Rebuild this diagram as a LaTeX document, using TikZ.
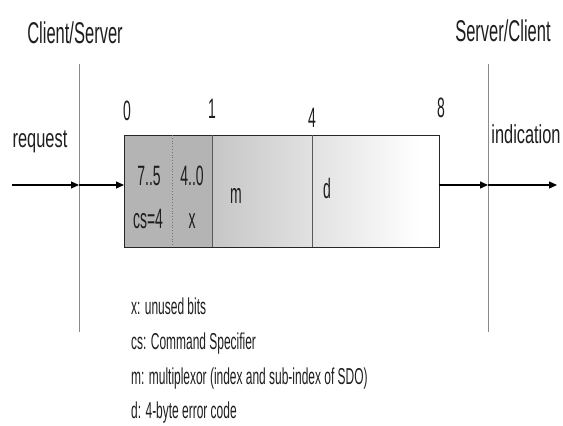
\documentclass[tikz,border=0pt]{standalone}
\usepackage{fontspec}
\setmainfont{Liberation Sans}
\newfontfamily\titlefont[FakeStretch=0.55]{Liberation Sans}
\newfontfamily\labfont[FakeStretch=0.63]{Liberation Sans}
\newfontfamily\boxfont[FakeStretch=0.5]{Liberation Sans}
\newfontfamily\legfont[FakeStretch=0.52]{Liberation Sans}
\usetikzlibrary{arrows.meta}
\definecolor{txt}{HTML}{1E1E1E}
\definecolor{cellgray}{HTML}{B4B4B4}
\definecolor{gradstart}{HTML}{C6C6C6}
\definecolor{sepline}{HTML}{8A8A8A}
\begin{document}
\begin{tikzpicture}[x=1pt,y=-1pt,
  title/.style={anchor=base, text=txt, inner sep=0pt, font=\titlefont\fontsize{30}{30}\selectfont},
  lab/.style={anchor=base, text=txt, inner sep=0pt, font=\labfont\fontsize{26}{26}\selectfont},
  bit/.style={anchor=base, text=txt, inner sep=0pt, font=\boxfont\fontsize{28}{28}\selectfont},
  leg/.style={anchor=base west, text=txt, inner sep=0pt, font=\legfont\fontsize{23}{23}\selectfont},
  sidebar/.style={draw=sepline, line width=1pt},
  msgarrow/.style={draw=black, line width=1.2pt, -{Triangle[length=8pt,width=7pt]}},
  divider/.style={draw=black!65, line width=0.8pt}]
\useasboundingbox (0,0) rectangle (563,426);

% frame fills
\fill[cellgray] (124,135) rectangle (212,247);
\shade[left color=gradstart, right color=white] (212,135) rectangle (420,247);
\fill[white] (420,135) rectangle (439,247);
\node[draw=black!85, line width=1.2pt, anchor=north west, minimum width=315pt, minimum height=112pt, inner sep=0pt] (frame) at (124,135) {};

% dividers
\coordinate (d1t) at (172,135); \coordinate (d1b) at (172,247);
\coordinate (d2t) at (212,135); \coordinate (d2b) at (212,247);
\coordinate (d3t) at (312,135); \coordinate (d3b) at (312,247);
\draw[draw=black!55, line width=0.8pt, dotted] (d1t) -- (d1b);
\draw[divider] (d2t) -- (d2b);
\draw[divider] (d3t) -- (d3b);

% side bars
\coordinate (lbt) at (79,64); \coordinate (lbb) at (79,332);
\coordinate (rbt) at (488,64); \coordinate (rbb) at (488,332);
\draw[sidebar] (lbt) -- (lbb);
\draw[sidebar] (rbt) -- (rbb);

% arrows
\coordinate (src) at (12,185);
\coordinate (lhit) at (79,185);
\coordinate (fin) at (124,185);
\coordinate (fout) at (439,185);
\coordinate (rhit) at (488,185);
\coordinate (dst) at (557,185);
\draw[msgarrow] (src) -- (lhit);
\draw[msgarrow] (lhit) -- (fin);
\draw[msgarrow] (fout) -- (rhit);
\draw[msgarrow] (rhit) -- (dst);

% titles
\node[title] (cs) at (75,43) {Client/Server};
\node[title] (sc) at (503,41) {Server/Client};
\node[lab] (req) at (40,147) {request};
\node[lab] (ind) at (526,143) {indication};

% bit numbers
\node[bit] (b0) at (127,120) {0};
\node[bit] (b1) at (212,118) {1};
\node[bit] (b4) at (312,127) {4};
\node[bit] (b8) at (441,117) {8};

% cell texts
\node[bit] (t75) at (149,185) {7..5};
\node[bit] (t40) at (192,185) {4..0};
\node[bit] (tcs) at (148,228) {cs=4};
\node[bit] (tx) at (192,228) {x};
\node[bit] (tm) at (236,203) {m};
\node[bit] (td) at (327,198) {d};

% legend
\node[leg] (l1) at (131,314) {x: unused bits};
\node[leg] (l2) at (131,349) {cs: Command Specifier};
\node[leg] (l3) at (131,384) {m: multiplexor (index and sub-index of SDO)};
\node[leg] (l4) at (131,418) {d: 4-byte error code};
\end{tikzpicture}
\end{document}
